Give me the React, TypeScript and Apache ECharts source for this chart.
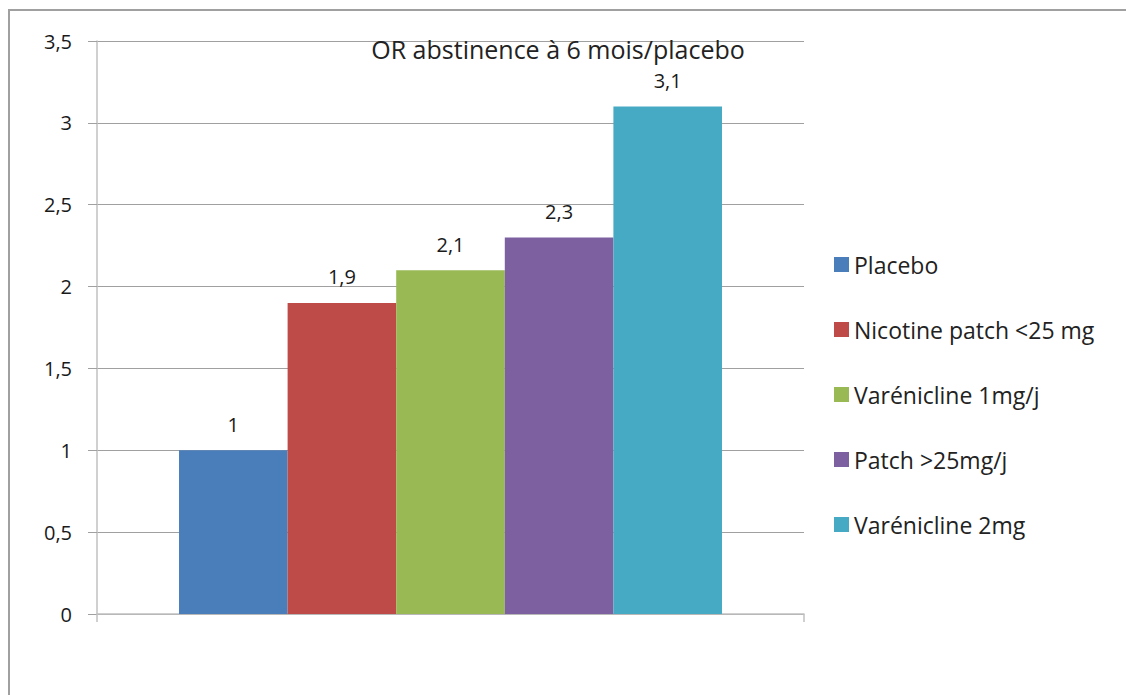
import React, { useEffect, useRef } from "react";
import * as echarts from "echarts";

const categories = [""];
const seriesNames = [
  "Placebo",
  "Nicotine patch <25 mg",
  "Varénicline 1mg/j",
  "Patch >25mg/j",
  "Varénicline 2mg",
];
const seriesValues = [1, 1.9, 2.1, 2.3, 3.1];
const seriesColors = ["#4a7ebb", "#be4b48", "#98b954", "#7d60a0", "#46aac5"];
const titleText = "OR abstinence à 6 mois/placebo";

const FONT = "'Open Sans', 'Noto Sans', sans-serif";
const fmt = (v: number) => String(v).replace(".", ",");

export default function App() {
  const ref = useRef<HTMLDivElement>(null);
  useEffect(() => {
    document.body.style.margin = "0";
    const chart = echarts.init(ref.current!, null, { renderer: "svg" });
    chart.setOption({
      animation: false,
      backgroundColor: "#ffffff",
      textStyle: { fontFamily: FONT },
      title: {
        text: titleText,
        left: 553,
        top: 31,
        textAlign: "center",
        textStyle: { fontFamily: FONT, fontSize: 25, fontWeight: "normal", color: "#222" },
      },
      graphic: [
        {
          type: "rect",
          shape: { x: 9, y: 10, width: 1200, height: 800 },
          style: { fill: "none", stroke: "#a0a0a0", lineWidth: 2 },
          silent: true,
        },
      ],
      legend: {
        orient: "vertical",
        left: 829,
        top: 248,
        itemWidth: 15,
        itemHeight: 15,
        itemGap: 42,
        icon: "rect",
        textStyle: { fontFamily: FONT, fontSize: 23, color: "#222" },
        data: seriesNames,
      },
      grid: { left: 97, right: 322, top: 41, bottom: 81, containLabel: false },
      xAxis: {
        type: "category",
        data: categories,
        axisLine: { lineStyle: { color: "#c0c0c0", width: 1.5 } },
        axisTick: { show: true, length: 8, lineStyle: { color: "#c0c0c0", width: 1.5 }, alignWithLabel: false },
        axisLabel: { show: false },
      },
      yAxis: {
        type: "value",
        min: 0,
        max: 3.5,
        interval: 0.5,
        axisLine: { show: true, lineStyle: { color: "#c0c0c0", width: 1.5 } },
        axisTick: { show: true, length: 9, lineStyle: { color: "#a0a0a0" } },
        splitLine: { lineStyle: { color: "#a0a0a0", width: 1 } },
        axisLabel: {
          fontFamily: FONT,
          fontSize: 20,
          color: "#1a1a1a",
          margin: 25,
          formatter: (v: number) => fmt(v),
        },
      },
      series: seriesNames.map((name, i) => ({
        name,
        type: "bar",
        barGap: "0%",
        barCategoryGap: "23.2%",
        itemStyle: { color: seriesColors[i] },
        label: {
          show: true,
          position: "top",
          distance: 16,
          fontFamily: FONT,
          fontSize: 20,
          color: "#1a1a1a",
          formatter: (p: any) => fmt(p.value),
        },
        data: categories.map(() => seriesValues[i]),
      })),
    });
    return () => chart.dispose();
  }, []);
  return <div ref={ref} style={{ width: 1126, height: 695 }} />;
}
